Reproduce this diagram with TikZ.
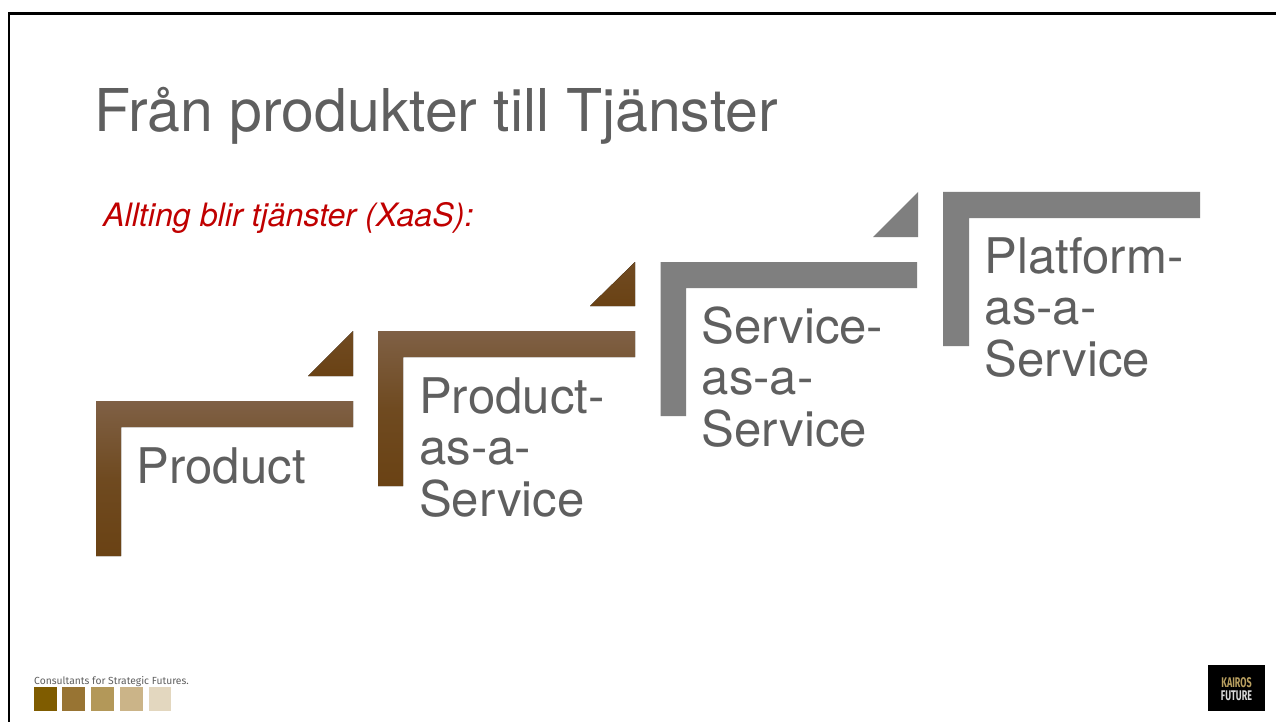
\documentclass[tikz,border=0pt]{standalone}
\usepackage{fontspec}
\setmainfont{TeX Gyre Heros}
\newfontfamily\logofont{Fira Sans}
\definecolor{txtgray}{HTML}{5F5F5F}
\definecolor{redtxt}{HTML}{C00000}
\definecolor{browntop}{HTML}{7F6045}
\definecolor{brownmid}{HTML}{6F4A20}
\definecolor{brownbot}{HTML}{6A4214}
\definecolor{graybar}{HTML}{7F7F7F}
\definecolor{sqa}{HTML}{7F5C00}
\definecolor{sqb}{HTML}{987433}
\definecolor{sqc}{HTML}{B39859}
\definecolor{sqd}{HTML}{CBB488}
\definecolor{sqe}{HTML}{E3D7BF}
\definecolor{goldtxt}{HTML}{B9A060}
\tikzset{
  lab/.style={anchor=base west,inner sep=0pt,text=txtgray,font=\fontsize{49.1}{49.1}\selectfont},
  brownfill/.style={top color=browntop,bottom color=brownbot,middle color=brownmid,draw=none},
  brownflat/.style={top color=brownbot!70!browntop,bottom color=brownbot,draw=none},
  grayfill/.style={fill=graybar,draw=none},
  sq/.style={draw=none,minimum width=23pt,minimum height=24pt,inner sep=0pt,anchor=north west},
  logotxt/.style={anchor=base,inner sep=0pt,font=\logofont\bfseries\fontsize{14}{14}\selectfont,xscale=.64}
}
\begin{document}
\begin{tikzpicture}[x=1pt,y=-1pt]
\useasboundingbox (0,0) rectangle (1276,722);
\fill[white] (0,0) rectangle (1276,722);
% slide frame
\draw[black,line width=2.8pt] (9,722) -- (9,13.5) -- (1276,13.5);
% title
\node[anchor=base west,inner sep=0pt,text=txtgray,font=\fontsize{59}{59}\selectfont] (title) at (94,132) {Från produkter till Tjänster};
\node[anchor=base west,inner sep=0pt,text=redtxt,font=\fontsize{32.2}{32.2}\selectfont\itshape] (sub) at (103,226) {Allting blir tjänster (XaaS):};
% step 1
\fill[brownfill] (96,401) -- (353,401) -- (353,427) -- (121,427) -- (121,556) -- (96,556) -- cycle;
\fill[brownflat] (353,331) -- (353,376) -- (308,376) -- cycle;
\node[lab] (p1) at (136.5,483) {Product};
% step 2
\fill[brownfill] (378,331) -- (635,331) -- (635,357) -- (403,357) -- (403,486) -- (378,486) -- cycle;
\fill[brownflat] (635,262) -- (635,306) -- (590,306) -- cycle;
\node[lab] (p2a) at (419,413) {Product-};
\node[lab] (p2b) at (419,464) {as-a-};
\node[lab] (p2c) at (419,516) {Service};
% step 3
\fill[grayfill] (660.5,262) -- (917,262) -- (917,288) -- (686,288) -- (686,416) -- (660.5,416) -- cycle;
\fill[grayfill] (918,192) -- (918,237) -- (873,237) -- cycle;
\node[lab] (s3a) at (701.5,343) {Service-};
\node[lab] (s3b) at (701.5,394) {as-a-};
\node[lab] (s3c) at (701.5,446) {Service};
% step 4
\fill[grayfill] (943,192) -- (1200,192) -- (1200,218) -- (969,218) -- (969,346) -- (943,346) -- cycle;
\node[lab] (s4a) at (984.5,273) {Platform-};
\node[lab] (s4b) at (984.5,324) {as-a-};
\node[lab] (s4c) at (984.5,376) {Service};
% logo left
\node[anchor=base west,inner sep=0pt,text=txtgray,font=\logofont\fontsize{10.3}{10.3}\selectfont] (tag) at (34,684) {Consultants for Strategic Futures.};
\node[sq,fill=sqa] (s1) at (34,687) {};
\node[sq,fill=sqb] (s2) at (62,687) {};
\node[sq,fill=sqc] (s3) at (91,687) {};
\node[sq,fill=sqd] (s4) at (120,687) {};
\node[sq,fill=sqe,minimum width=22pt] (s5) at (149,687) {};
% logo right
\node[draw=none,fill=black,minimum width=57pt,minimum height=46pt,inner sep=0pt,anchor=north west] (logo) at (1208,665) {};
\node[logotxt,text=goldtxt] (k1) at (1236.5,687) {KAIROS};
\node[logotxt,text=white!85!black] (k2) at (1236.5,700) {FUTURE};
\end{tikzpicture}
\end{document}
